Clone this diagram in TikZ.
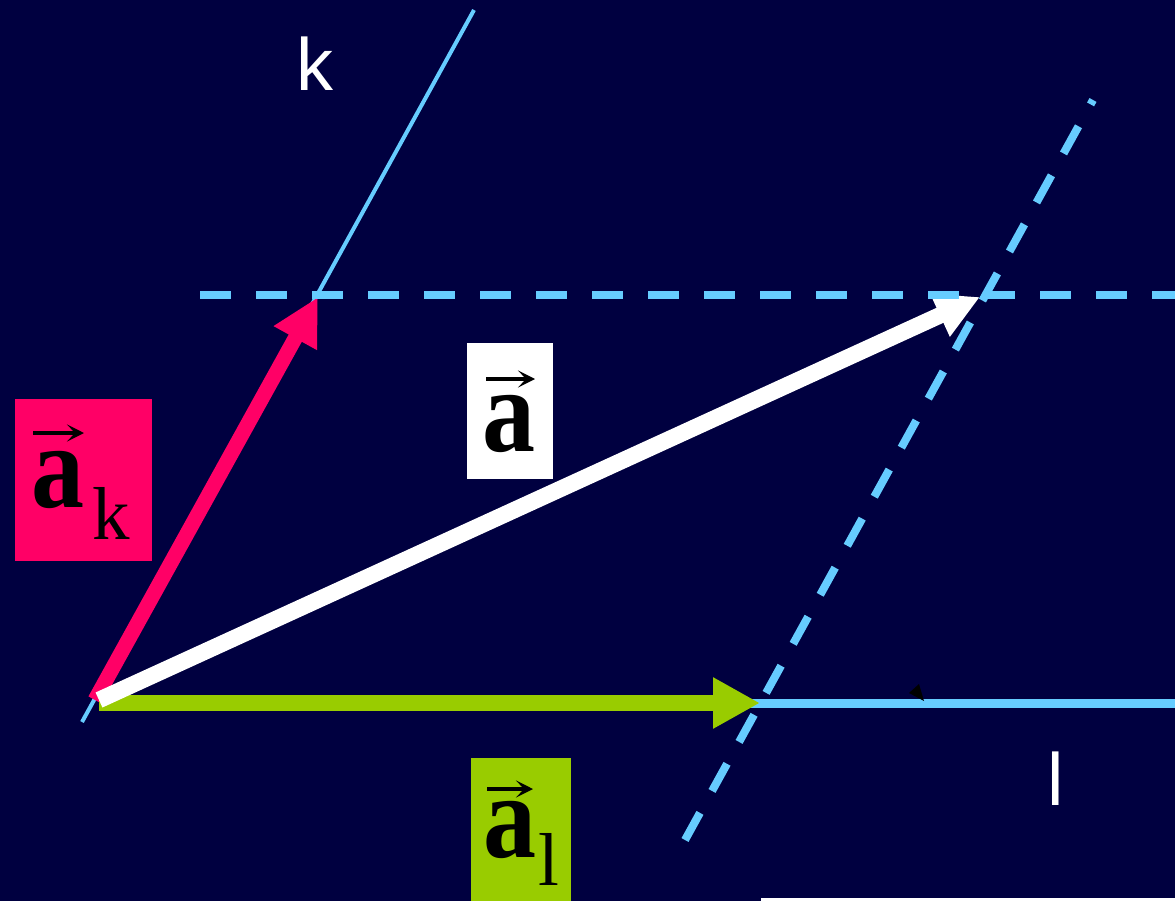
\documentclass[tikz,border=0pt]{standalone}
\usepackage{fontspec}
\setmainfont{Liberation Serif}
\setsansfont{Liberation Sans}
\usetikzlibrary{arrows.meta}
\definecolor{bgc}{HTML}{000040}
\definecolor{pinkc}{HTML}{FF0066}
\definecolor{greenc}{HTML}{99CC00}
\definecolor{bluec}{HTML}{66CCFF}
\newcommand{\tallA}{\scalebox{1}[1.13]{a}}
\tikzset{
  axisline/.style={draw=bluec},
  dashline/.style={draw=bluec, line width=8pt, dash pattern=on 31pt off 25pt},
  labbox/.style={inner sep=0pt, outer sep=0pt},
  bolda/.style={anchor=base, inner sep=0pt, font=\fontsize{106}{106}\selectfont\bfseries},
  subtxt/.style={anchor=base, inner sep=0pt, font=\fontsize{75}{75}\selectfont},
  axlab/.style={anchor=base, inner sep=0pt, text=white, font=\sffamily\fontsize{74}{74}\selectfont},
  vecsign/.style={draw=black, line width=3.5pt, -{Stealth[length=17pt,width=17pt,inset=8pt]}}
}
\begin{document}
\begin{tikzpicture}[x=1pt,y=-1pt]
\useasboundingbox (0,0) rectangle (1175,901);
\clip (0,0) rectangle (1175,901);
\fill[bgc] (0,0) rectangle (1175,901);

% coordinates
\coordinate (kbot) at (82,722);
\coordinate (ktop) at (474,10);
\coordinate (lstart) at (99,703);
\coordinate (lend) at (1178,703);
\coordinate (hdL) at (200,295);
\coordinate (hdR) at (1178,295);
\coordinate (sdB) at (685,840);
\coordinate (sdT) at (1093,100);
\coordinate (Opink) at (95,700);
\coordinate (Tpink) at (318,297);
\coordinate (Owhite) at (99,700);
\coordinate (Twhite) at (980,297);
\coordinate (Ogreen) at (99,703);
\coordinate (Tgreen) at (760,703);

% solid axes
\draw[axisline, line width=9pt] (lstart) -- (lend);
\draw[axisline, line width=4pt] (kbot) -- (ktop);

% component and resultant vectors
\draw[draw=pinkc, line width=15pt, -{Triangle[length=47pt,width=46pt]}] (Opink) -- (Tpink);
\draw[draw=greenc, line width=16pt, -{Triangle[length=47pt,width=48pt]}] (Ogreen) -- (Tgreen);
\draw[draw=white, line width=16.5pt, -{Triangle[length=44pt,width=44pt]}] (Owhite) -- (Twhite);

% dashed parallels
\draw[dashline] (hdL) -- (hdR);
\draw[dashline] (sdB) -- (sdT);

% small black tip
\fill[black] (909,693) -- (919,684) -- (924,701) -- cycle;

% bottom white strip
\node[labbox, fill=white, minimum width=420pt, minimum height=6pt, anchor=north west] (strip) at (761,898) {};

% label boxes
\node[labbox, fill=pinkc, minimum width=137pt, minimum height=162pt] (kbox) at (83.5,480) {};
\node[labbox, fill=white, minimum width=86pt, minimum height=136pt] (abox) at (510,411) {};
\node[labbox, fill=greenc, minimum width=100pt, minimum height=150pt, anchor=north west] (lbox) at (471,758) {};

% label texts
\node[bolda] (ka) at (58,507) {\tallA};
\node[subtxt] (kk) at (111,539) {k};
\draw[vecsign] (33,433) -- (84,433);

\node[bolda] (aa) at (508.5,451) {\tallA};
\draw[vecsign] (486,379) -- (535,379);

\node[bolda] (la) at (509.5,857) {\tallA};
\node[subtxt] (ll) at (548.5,885) {l};
\draw[vecsign] (487,789) -- (533,789);

% axis labels
\node[axlab] (klab) at (314.5,91) {k};
\node[axlab] (llab) at (1055.5,805) {l};
\end{tikzpicture}
\end{document}
